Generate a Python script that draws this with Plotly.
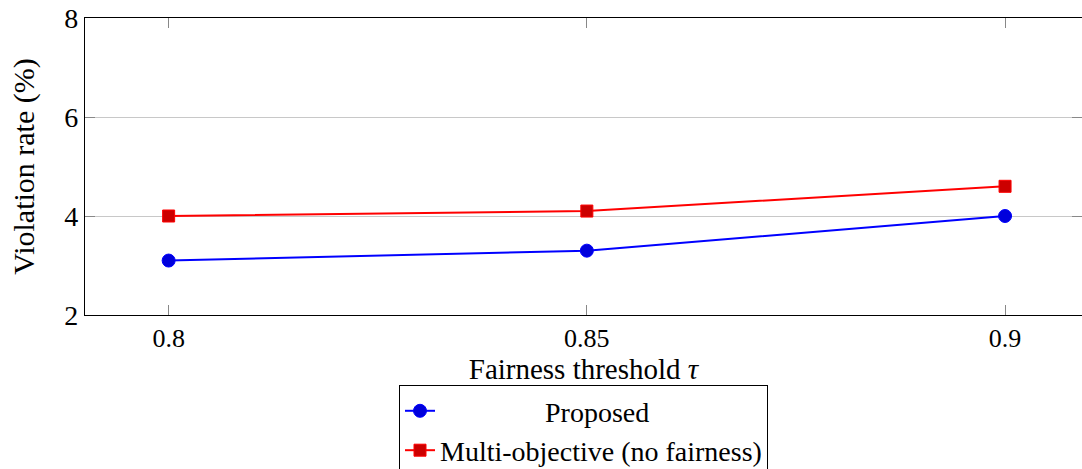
import plotly.graph_objects as go

# Fairness thresholds and violation rates (%)
thresholds = [0.8, 0.85, 0.9]
proposed = [3.1, 3.3, 4.0]
multi_objective = [4.0, 4.1, 4.6]
x_tick_labels = ["0.8", "0.85", "0.9"]
y_ticks = [2, 4, 6, 8]

FONT = "Liberation Serif, serif"
NBSP = "\u00a0"

fig = go.Figure()
fig.add_trace(go.Scatter(
    x=thresholds, y=proposed, mode="lines+markers",
    name=NBSP * 15 + "Proposed",
    line=dict(color="rgb(0,0,255)", width=2),
    marker=dict(symbol="circle", size=13, color="rgb(0,0,220)",
                line=dict(color="rgb(0,0,255)", width=1)),
))
fig.add_trace(go.Scatter(
    x=thresholds, y=multi_objective, mode="lines+markers",
    name="Multi-objective (no fairness)",
    line=dict(color="rgb(255,0,0)", width=2),
    marker=dict(symbol="square", size=12, color="rgb(204,0,0)",
                line=dict(color="rgb(255,0,0)", width=1)),
))

fig.update_layout(
    width=1082, height=469,
    margin=dict(l=85, r=0, t=18, b=154, autoexpand=False),
    plot_bgcolor="white", paper_bgcolor="white",
    font=dict(family=FONT, size=27, color="black"),
    showlegend=True,
    legend=dict(
        x=0.5, xanchor="center", y=-0.236, yanchor="top",
        bordercolor="black", borderwidth=1, bgcolor="white",
        font=dict(family=FONT, size=28),
        tracegroupgap=0,
    ),
)

fig.update_xaxes(
    range=[0.79, 0.9092],
    tickvals=thresholds, ticktext=x_tick_labels,
    tickfont=dict(family=FONT, size=26),
    ticks="inside", ticklen=10, tickcolor="#888", tickwidth=1,
    showline=True, linecolor="black", linewidth=1.3, mirror="ticks",
    showgrid=False, zeroline=False,
    title=dict(text="Fairness threshold <i>τ</i>", standoff=1,
               font=dict(family=FONT, size=29)),
)
fig.update_yaxes(
    range=[2, 8],
    tickvals=y_ticks,
    tickfont=dict(family=FONT, size=28),
    ticks="inside", ticklen=10, tickcolor="#888", tickwidth=1,
    showline=True, linecolor="black", linewidth=1.3, mirror="ticks",
    showgrid=True, gridcolor="#c8c8c8", gridwidth=1, zeroline=False,
    title=dict(text="Violation rate (%)", standoff=20,
               font=dict(family=FONT, size=30)),
)

fig.write_html("out.html")
